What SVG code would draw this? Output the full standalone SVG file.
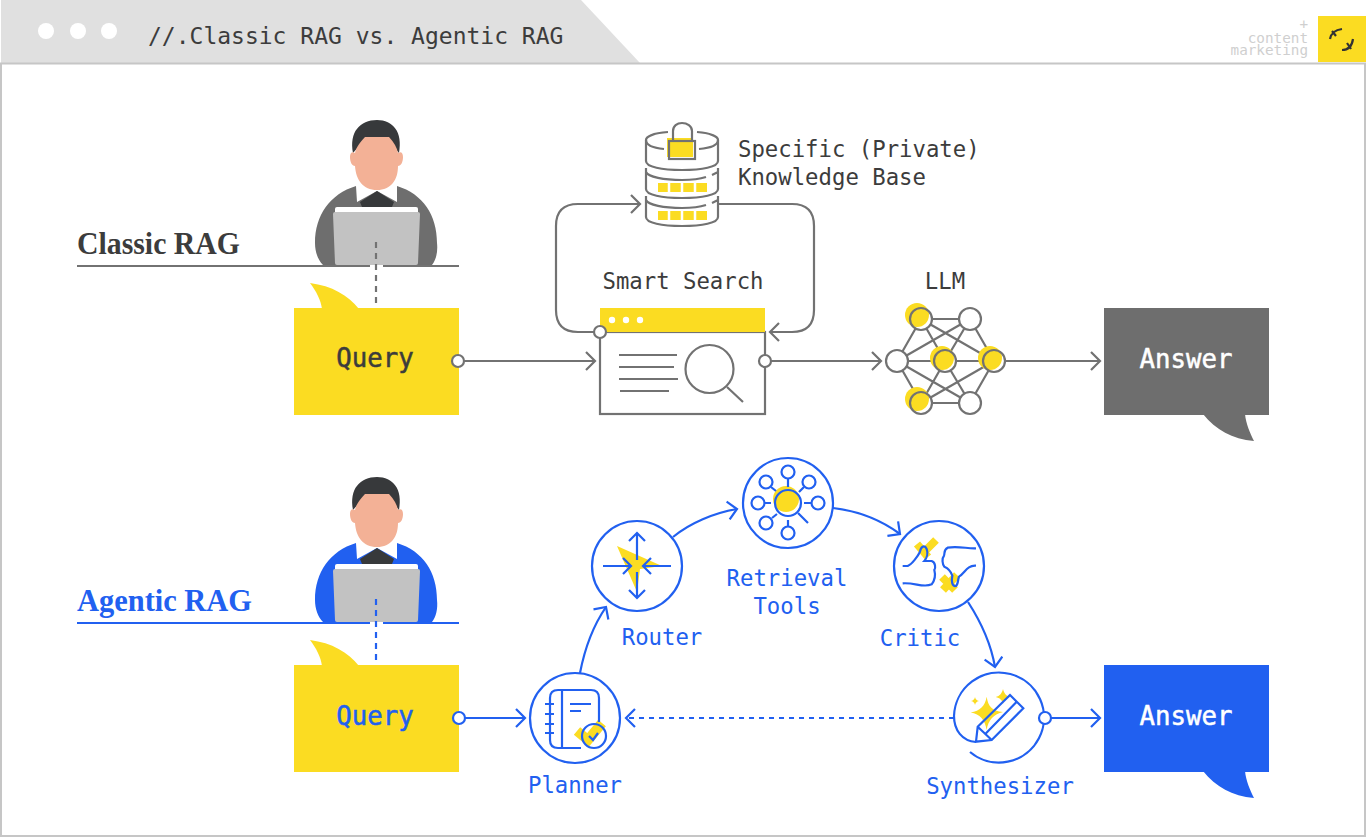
<svg xmlns="http://www.w3.org/2000/svg" xmlns:xlink="http://www.w3.org/1999/xlink" width="1366" height="837" viewBox="0 0 1366 837">
<style>
text{font-family:"DejaVu Sans Mono","Liberation Mono",monospace;font-size:22.3px}
.mid{text-anchor:middle}
.g{fill:#3c3c3c}
.b{fill:#2160f0}
.big{font-size:25.7px;stroke-width:.5px;paint-order:stroke}
.head{font-family:"Liberation Serif","DejaVu Serif",serif;font-size:31px;font-weight:700}
.ln{fill:none;stroke:#727272;stroke-width:2.2}
.lb{fill:none;stroke:#2160f0;stroke-width:2.2}
.lnw{fill:#fff;stroke:#727272;stroke-width:2.2}
.lbw{fill:#fff;stroke:#2160f0;stroke-width:2.2}
.y{fill:#fbdc22}
.ys{fill:none;stroke:#fbdc22;stroke-linejoin:miter}
.dots{fill:#fff}
.logo{fill:#cfcfcf;font-size:14.3px;text-anchor:end}
</style>
<defs>
<marker id="ag" viewBox="0 0 12 20" refX="10" refY="10" markerWidth="12" markerHeight="20" markerUnits="userSpaceOnUse" orient="auto"><path d="M1 1L10 10L1 19" fill="none" stroke="#727272" stroke-width="2.2"/></marker>
<marker id="ab" viewBox="0 0 12 20" refX="10" refY="10" markerWidth="12" markerHeight="20" markerUnits="userSpaceOnUse" orient="auto"><path d="M1 1L10 10L1 19" fill="none" stroke="#2160f0" stroke-width="2.2"/></marker>
<g id="person">
<path d="M356 186C330 194 315 215 315 243C315 252 318 260 323 265H432C436 260 438 252 437 243C437 215 423 194 397 186Z"/>
<path d="M356 186L357 202L377 191L397 202L397 186Z" fill="#fff"/>
<path d="M377 191L360 202L362 207H392L394 202Z" fill="#37393b"/>
<path d="M353 153C349 132 360 120 377 120C393 120 403 132 399 153L392 145H360Z" fill="#37393b"/>
<path d="M365 137H389C394 142 397 148 398 153C401 151 403 153 403 157C403 162 401 166 398 166C398 180 391 190 377 190C363 190 356 180 355 166C352 166 350 162 350 157C350 153 352 151 355 153C356 148 360 142 365 137Z" fill="#f3b196"/>
<rect x="335" y="207" width="83" height="8" rx="2" fill="#fff"/>
<path d="M335 212H418Q420 212 420 214L418 263Q418 265 416 265H337Q335 265 335 263L333 214Q333 212 335 212Z" fill="#c2c2c2"/>
</g>
<path id="qtail" d="M310 283C332 286 348 295 359 309H322C321 300 316 291 310 283Z"/>
<path id="atail" d="M1203 414H1245C1246 424 1250 433 1254 441C1232 439 1216 430 1203 414Z"/>
</defs>
<rect width="1366" height="837" fill="#fff"/>
<g id="window">
<polygon points="1,0 581,0 640,63 1,63" fill="#e0e0e0"/>
<rect x="1" y="63.500" width="1364" height="772.500" fill="#fff" stroke="#c6c6c6" stroke-width="2"/>
<circle cx="46" cy="31" r="8" class="dots"/><circle cx="78" cy="31" r="8" class="dots"/><circle cx="109" cy="31" r="8" class="dots"/>
<text x="148" y="44" fill="#3c3c3c" style="font-size:23px">//.Classic RAG vs. Agentic RAG</text>
</g>
<g id="logo">
<text x="1308" y="29" class="logo">+</text>
<text x="1308" y="43" class="logo">content</text>
<text x="1308" y="55" class="logo">marketing</text>
<rect x="1318" y="16" width="48" height="46" class="y"/>
<path d="M1330 39C1331 34 1334 30 1342 29M1332 31L1336 36M1342 50C1348 50 1352 46 1353 39M1347 43L1351 49" fill="none" stroke="#333" stroke-width="2.200"/>
</g>
<g id="classic-heading">
<text x="77" y="254" class="head" fill="#3c3c3c" textLength="163" lengthAdjust="spacingAndGlyphs">Classic RAG</text>
<path d="M77 266H370M383 266H459" stroke="#727272" stroke-width="2" fill="none"/>
</g>
<g id="classic-person"><use xlink:href="#person" href="#person" fill="#6e6e6e"/></g>
<g id="agentic-heading">
<text x="77" y="611" class="head b" textLength="175" lengthAdjust="spacingAndGlyphs">Agentic RAG</text>
<path d="M77 623H370M383 623H459" stroke="#2160f0" stroke-width="2" fill="none"/>
</g>
<g id="agentic-person"><use xlink:href="#person" href="#person" y="357" fill="#2160f0"/></g>
<g id="classic-query">
<use xlink:href="#qtail" href="#qtail" class="y"/><rect x="294" y="308" width="165" height="107" class="y"/>
<text x="375" y="367" class="mid g big" stroke="#3c3c3c">Query</text>
</g>
<g id="classic-answer">
<use xlink:href="#atail" href="#atail" fill="#6e6e6e"/><rect x="1104" y="308" width="165" height="107" fill="#6e6e6e"/>
<text x="1186" y="368" class="mid big" fill="#fff" stroke="#fff">Answer</text>
</g>
<g id="agentic-query">
<use xlink:href="#qtail" href="#qtail" y="357" class="y"/><rect x="294" y="665" width="165" height="107" class="y"/>
<text x="375" y="725" class="mid b big" stroke="#2160f0">Query</text>
</g>
<g id="agentic-answer">
<use xlink:href="#atail" href="#atail" y="357" class="b"/><rect x="1104" y="665" width="165" height="107" class="b"/>
<text x="1186" y="725" class="mid big" fill="#fff" stroke="#fff">Answer</text>
</g>
<g id="connectors">
<line x1="376" y1="242" x2="376" y2="308" class="ln" stroke-dasharray="6 5"/>
<line x1="376" y1="599" x2="376" y2="665" class="lb" stroke-dasharray="6 5"/>
<path d="M464 361H595" class="ln" marker-end="url(#ag)"/>
<path d="M600 332H578Q556 332 556 310V226Q556 204 578 204H640" class="ln" marker-end="url(#ag)"/>
<path d="M718 204H792Q814 204 814 226V310Q814 332 792 332H770" class="ln" marker-end="url(#ag)"/>
<path d="M771 361H881" class="ln" marker-end="url(#ag)"/>
<path d="M1006 361H1100" class="ln" marker-end="url(#ag)"/>
<path d="M465 718H525" class="lb" marker-end="url(#ab)"/>
<path d="M580 673C585 647 593 626 606 607" class="lb" marker-end="url(#ab)"/>
<path d="M673 537C690 523 714 513 737 509" class="lb" marker-end="url(#ab)"/>
<path d="M833 508C858 511 881 520 900 534" class="lb" marker-end="url(#ab)"/>
<path d="M968 602C981 622 991 644 995 667" class="lb" marker-end="url(#ab)"/>
<path d="M954 718H626" class="lb" stroke-dasharray="5 5" marker-end="url(#ab)"/>
<path d="M1051 718H1100" class="lb" marker-end="url(#ab)"/>
<circle cx="458" cy="361" r="6" class="lnw"/>
<circle cx="459" cy="718" r="6" class="lbw"/>
</g>
<g id="knowledge-base">
<rect x="667" y="138" width="26" height="19" class="y"/>
<rect x="658" y="183" width="49" height="9" class="y"/><rect x="658" y="211" width="49" height="9" class="y"/>
<g stroke="#fff" stroke-width="2.500"><path d="M669 182V193M682 182V193M695 182V193M669 210V221M682 210V221M695 210V221"/></g>
<g class="ln">
<path d="M668 132C655 133 646 136 646 140V161C646 167 662 170 682 170C702 170 718 167 718 161V140C718 136 709 133 697 132"/>
<path d="M646 140C646 145 653 148 664 149M718 140C718 145 711 148 699 149"/>
<path d="M673 141V131C673 126 677 123 682 123C687 123 692 126 692 131V141"/>
<rect x="669" y="141" width="26" height="18"/>
<path d="M646 168V189C646 195 662 198 682 198C702 198 718 195 718 189V168M646 172C648 177 664 180 682 180C690 180 700 179 706 177M712 175L718 172"/>
<path d="M646 196V217C646 223 662 226 682 226C702 226 718 223 718 217V196M646 200C648 205 664 208 682 208C690 208 700 207 706 205M712 203L718 200"/>
</g>
<text x="738" y="157" class="g">Specific (Private)</text>
<text x="738" y="185" class="g">Knowledge Base</text>
</g>
<g id="smart-search">
<text x="683" y="289" class="mid g">Smart Search</text>
<rect x="600" y="332" width="165" height="82" class="lnw"/>
<rect x="600" y="308" width="165" height="24" class="y"/>
<circle cx="612" cy="320" r="3.200" class="dots"/><circle cx="626" cy="320" r="3.200" class="dots"/><circle cx="640" cy="320" r="3.200" class="dots"/>
<path d="M619 355H677M619 367H674M619 379H678M620 391H669M727 387L743 402" class="ln"/>
<circle cx="709.500" cy="369" r="24" class="ln"/>
<circle cx="600" cy="332" r="6" class="lnw"/>
<circle cx="765" cy="361" r="6" class="lnw"/>
</g>
<g id="llm">
<text x="945" y="289" class="mid g">LLM</text>
<path class="ln" d="M921 319H970M921 319L897 361M921 319L945 361M921 319L994 361M970 319L897 361M970 319L945 361M970 319L994 361M897 361H994M897 361L921 403M897 361L970 403M945 361L921 403M945 361L970 403M994 361L921 403M994 361L970 403M921 403H970"/>
<circle cx="970" cy="319" r="11" class="lnw"/><circle cx="897" cy="361" r="11" class="lnw"/><circle cx="970" cy="403" r="11" class="lnw"/>
<g><circle cx="921" cy="319" r="11" fill="#fff"/><circle cx="917" cy="315" r="12" class="y"/><circle cx="921" cy="319" r="11" class="ln"/></g>
<g><circle cx="945" cy="361" r="11" fill="#fff"/><circle cx="942" cy="358" r="12" class="y"/><circle cx="945" cy="361" r="11" class="ln"/></g>
<g><circle cx="994" cy="361" r="11" fill="#fff"/><circle cx="990" cy="358" r="12" class="y"/><circle cx="994" cy="361" r="11" class="ln"/></g>
<g><circle cx="921" cy="403" r="11" fill="#fff"/><circle cx="917" cy="399" r="12" class="y"/><circle cx="921" cy="403" r="11" class="ln"/></g>
</g>
<g id="planner">
<circle cx="575" cy="718" r="45" class="lb"/>
<path d="M577 731L588 740L602 723" class="ys" stroke-width="10"/>
<path d="M581 748H558Q550 748 550 740V698Q550 690 558 690H591Q599 690 599 698V722M562 690V748M545 704H554M545 714H554M545 724H554M545 733H554M570 704H591M570 711H581" class="lb"/>
<circle cx="594" cy="736" r="12" class="lb"/>
<path d="M589 736L593 740L598 733" class="lb"/>
<text x="575" y="793" class="mid b">Planner</text>
</g>
<g id="router">
<circle cx="637" cy="566" r="45" class="lb"/>
<polygon points="617,546 662,566 640,569 637,592" class="y"/>
<path d="M637 533V560M629 541L637 533L645 541M637 572V598M629 590L637 598L645 590M603 566H631M623 558L631 566L623 574M671 566H643M651 558L643 566L651 574" class="lb"/>
<text x="662" y="645" class="mid b">Router</text>
</g>
<g id="retrieval-tools">
<circle cx="788" cy="503" r="45" class="lb"/>
<circle cx="786" cy="499" r="13" class="y"/>
<circle cx="788" cy="503" r="13" class="lb"/>
<circle cx="788" cy="472" r="6.500" class="lb"/><circle cx="809" cy="482" r="6.500" class="lb"/><circle cx="818" cy="503" r="6.500" class="lb"/><circle cx="788" cy="533" r="6.500" class="lb"/><circle cx="766" cy="523" r="6.500" class="lb"/><circle cx="758" cy="503" r="6.500" class="lb"/><circle cx="766" cy="482" r="6.500" class="lb"/>
<path d="M788 479V487M804 487L799 492M804 503H811M798 513L808 523M788 520V526M772 518L777 514M765 503H771M771 487L776 491" class="lb"/>
<text x="787" y="586" class="mid b">Retrieval</text>
<text x="787" y="614" class="mid b">Tools</text>
</g>
<g id="critic">
<circle cx="939" cy="566" r="45" class="lb"/>
<path d="M936 540L922 554M917 544L928 557M957 575L943 590M942 577L955 590" class="ys" stroke-width="8"/>
<g transform="translate(895 525) scale(.3333)" fill="none" stroke="#2160f0" stroke-width="6.600">
<path d="M23 123H38C50 118 68 95 75 80C78 62 90 60 95 72C100 85 95 100 88 108H110C122 112 122 130 118 135C122 150 120 165 110 178C85 190 60 172 23 175"/>
<path d="M243 70C220 72 190 62 158 68C145 75 150 85 147 92C140 100 142 118 148 125C160 130 168 140 172 152C168 170 172 185 183 183C190 178 188 165 192 155C210 145 215 120 243 122"/>
</g>
<text x="920" y="646" class="mid b">Critic</text>
</g>
<g id="synthesizer">
<path d="M970 752A45 45 0 1 0 954 716C954 730 962 741 976 742" class="lb"/>
<path d="M986.700 696.700C988 706 992 711 1003 712C994 714 988 720 986.700 730C985 720 980 714 970.700 712.500C980 711 985 706 986.700 696.700Z M1003 689C1004 693 1006 696 1010 697C1006 698 1004 700 1003 704C1002 700 1000 698 995.700 697C1000 696 1002 693 1003 689Z M975 697C975.500 699 976.500 700.500 979 701C976.500 701.500 975.500 703 975 705C974.500 703 973.500 701.500 971 701C973.500 700.500 974.500 699 975 697Z" class="y"/>
<path d="M1010 695L1023.300 708.300L991.700 740L976 741.700L977.700 726.700ZM977.700 726.700L991.700 740M1016.700 701.700L986 733.300" class="lb"/>
<circle cx="1045" cy="718" r="6" class="lbw"/>
<text x="1000" y="794" class="mid b">Synthesizer</text>
</g>
</svg>
